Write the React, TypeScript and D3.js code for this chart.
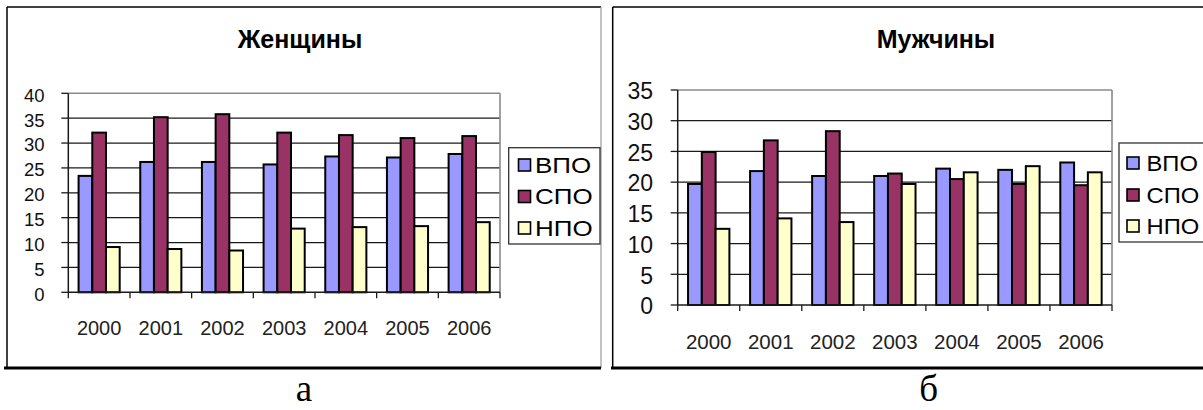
import React from 'react';
import * as d3 from 'd3';

// Categories and series
const years = ['2000', '2001', '2002', '2003', '2004', '2005', '2006'];
const seriesNames = ['ВПО', 'СПО', 'НПО'];
const seriesColors = ['#9999FF', '#993366', '#FFFFCC'];

// Женщины
const womenVPO = [23.4, 26.2, 26.2, 25.7, 27.3, 27.1, 27.8];
const womenSPO = [32.1, 35.2, 35.8, 32.1, 31.6, 31.0, 31.4];
const womenNPO = [9.1, 8.7, 8.4, 12.8, 13.1, 13.3, 14.1];

// Мужчины
const menVPO = [19.7, 21.8, 21.0, 21.0, 22.2, 22.0, 23.2];
const menSPO = [24.9, 26.8, 28.3, 21.4, 20.5, 19.7, 19.5];
const menNPO = [12.4, 14.1, 13.5, 19.7, 21.6, 22.6, 21.6];

// Axis ticks
const womenTicks = [0, 5, 10, 15, 20, 25, 30, 35, 40];
const menTicks = [0, 5, 10, 15, 20, 25, 30, 35];

const SANS = '"Liberation Sans", Arial, sans-serif';
const SERIF = '"Liberation Serif", "Times New Roman", serif';

type PanelProps = {
  title: string;
  caption: string;
  series: number[][];
  ticks: number[];
  frame: { x0: number; y0: number; x1: number | null; bottom: number; lineX0: number; lineX1: number };
  plot: { left: number; right: number; top: number; bottom: number };
  titleX: number;
  captionX: number;
  tickFont: number;
  tickLabelX: number;
  tickDy: number;
  catFont: number;
  catBaseline: number;
  legend: { x: number; y: number; w: number; h: number; rows: number[]; swatchX: number; textX: number; font: number; stretch: number };
};

function Panel(p: PanelProps) {
  const { plot } = p;
  const yMax = p.ticks[p.ticks.length - 1];
  const y = d3.scaleLinear().domain([0, yMax]).range([plot.bottom, plot.top]);
  const x0 = d3
    .scaleBand<string>()
    .domain(years)
    .range([plot.left, plot.right])
    .paddingInner(1 / 3)
    .paddingOuter(1 / 6);
  const x1 = d3.scaleBand<number>().domain([0, 1, 2]).range([0, x0.bandwidth()]).padding(0);
  const step = x0.step();

  return (
    <g>
      {/* frame */}
      <line x1={p.frame.x0} y1={p.frame.y0} x2={p.frame.x0} y2={p.frame.bottom} stroke="#000" strokeWidth={1.5} />
      <line x1={p.frame.x0} y1={p.frame.y0} x2={p.frame.x1 ?? 1203} y2={p.frame.y0} stroke="#000" strokeWidth={1.5} />
      {p.frame.x1 !== null && (
        <line x1={p.frame.x1} y1={p.frame.y0} x2={p.frame.x1} y2={p.frame.bottom} stroke="#9a9a9a" strokeWidth={1.2} />
      )}
      <line x1={p.frame.lineX0} y1={p.frame.bottom} x2={p.frame.lineX1} y2={p.frame.bottom} stroke="#000" strokeWidth={3} />

      {/* title */}
      <text x={p.titleX} y={48} textAnchor="middle" fontFamily={SANS} fontWeight="bold" fontSize={25} fill="#000">
        {p.title}
      </text>

      {/* gridlines */}
      {p.ticks.slice(1, -1).map((t) => (
        <line key={'g' + t} x1={plot.left} x2={plot.right} y1={y(t)} y2={y(t)} stroke="#1a1a1a" strokeWidth={1.2} />
      ))}
      {/* plot area border (top and right) */}
      <line x1={plot.left} x2={plot.right} y1={y(yMax)} y2={y(yMax)} stroke="#8a8a8a" strokeWidth={1.6} />
      <line x1={plot.right} x2={plot.right} y1={plot.top} y2={plot.bottom} stroke="#8a8a8a" strokeWidth={1.6} />

      {/* bars */}
      {years.map((yr, i) => (
        <g key={yr} transform={`translate(${x0(yr)},0)`}>
          {p.series.map((vals, s) => (
            <rect
              key={s}
              x={x1(s)}
              y={y(vals[i])}
              width={x1.bandwidth()}
              height={y(0) - y(vals[i])}
              fill={seriesColors[s]}
              stroke="#000"
              strokeWidth={2}
            />
          ))}
        </g>
      ))}

      {/* y axis */}
      <line x1={plot.left} x2={plot.left} y1={plot.top} y2={plot.bottom} stroke="#1a1a1a" strokeWidth={1.5} />
      {p.ticks.map((t) => (
        <g key={'t' + t}>
          <line x1={plot.left - 7} x2={plot.left} y1={y(t)} y2={y(t)} stroke="#1a1a1a" strokeWidth={1.3} />
          <text x={p.tickLabelX} y={y(t) + p.tickDy} textAnchor="end" fontFamily={SANS} fontSize={p.tickFont} fill="#111">
            {t}
          </text>
        </g>
      ))}

      {/* x axis */}
      <line x1={plot.left} x2={plot.right} y1={plot.bottom} y2={plot.bottom} stroke="#1a1a1a" strokeWidth={1.5} />
      {d3.range(years.length + 1).map((k) => (
        <line
          key={'xt' + k}
          x1={plot.left + k * step}
          x2={plot.left + k * step}
          y1={plot.bottom}
          y2={plot.bottom + 6}
          stroke="#1a1a1a"
          strokeWidth={1.3}
        />
      ))}
      {years.map((yr) => (
        <text
          key={'c' + yr}
          x={(x0(yr) ?? 0) + x0.bandwidth() / 2}
          y={p.catBaseline}
          textAnchor="middle"
          fontFamily={SANS}
          fontSize={p.catFont}
          fill="#222"
        >
          {yr}
        </text>
      ))}

      {/* legend */}
      <rect x={p.legend.x} y={p.legend.y} width={p.legend.w} height={p.legend.h} fill="#fff" stroke="#333" strokeWidth={1.3} />
      {seriesNames.map((name, s) => (
        <g key={name}>
          <rect
            x={p.legend.swatchX}
            y={p.legend.rows[s] - 6}
            width={12}
            height={12}
            fill={seriesColors[s]}
            stroke="#000"
            strokeWidth={1.6}
          />
          <text
            transform={`translate(${p.legend.textX},${p.legend.rows[s] + 7.5}) scale(${p.legend.stretch},1)`}
            fontFamily={SANS}
            fontSize={p.legend.font}
            fill="#000"
          >
            {name}
          </text>
        </g>
      ))}

      {/* caption */}
      <text x={p.captionX} y={401} textAnchor="middle" fontFamily={SERIF} fontSize={37} fill="#000">
        {p.caption}
      </text>
    </g>
  );
}

export default function App() {
  return (
    <svg
      width={1203}
      height={410}
      viewBox="0 0 1203 410"
      style={{ position: 'absolute', left: 0, top: 0, background: '#fff' }}
    >
      <rect x={0} y={0} width={1203} height={410} fill="#fff" />
      <Panel
        title="Женщины"
        caption="а"
        series={[womenVPO, womenSPO, womenNPO]}
        ticks={womenTicks}
        frame={{ x0: 7, y0: 7, x1: 601, bottom: 368, lineX0: 4, lineX1: 601 }}
        plot={{ left: 68.3, right: 500, top: 93.3, bottom: 292.3 }}
        titleX={300}
        captionX={304}
        tickFont={18.5}
        tickLabelX={44.5}
        tickDy={8.4}
        catFont={20}
        catBaseline={335}
        legend={{ x: 508.7, y: 147.7, w: 91.3, h: 96.3, rows: [165, 196.5, 228], swatchX: 518.5, textX: 535, font: 22, stretch: 1.18 }}
      />
      <Panel
        title="Мужчины"
        caption="б"
        series={[menVPO, menSPO, menNPO]}
        ticks={menTicks}
        frame={{ x0: 612.7, y0: 7, x1: null, bottom: 368, lineX0: 611, lineX1: 1203 }}
        plot={{ left: 677.7, right: 1112, top: 90, bottom: 305 }}
        titleX={936}
        captionX={928.7}
        tickFont={23}
        tickLabelX={653}
        tickDy={9.3}
        catFont={20.5}
        catBaseline={349}
        legend={{ x: 1119, y: 143, w: 100, h: 99, rows: [163, 195, 226], swatchX: 1127, textX: 1146.5, font: 22, stretch: 1.08 }}
      />
    </svg>
  );
}
